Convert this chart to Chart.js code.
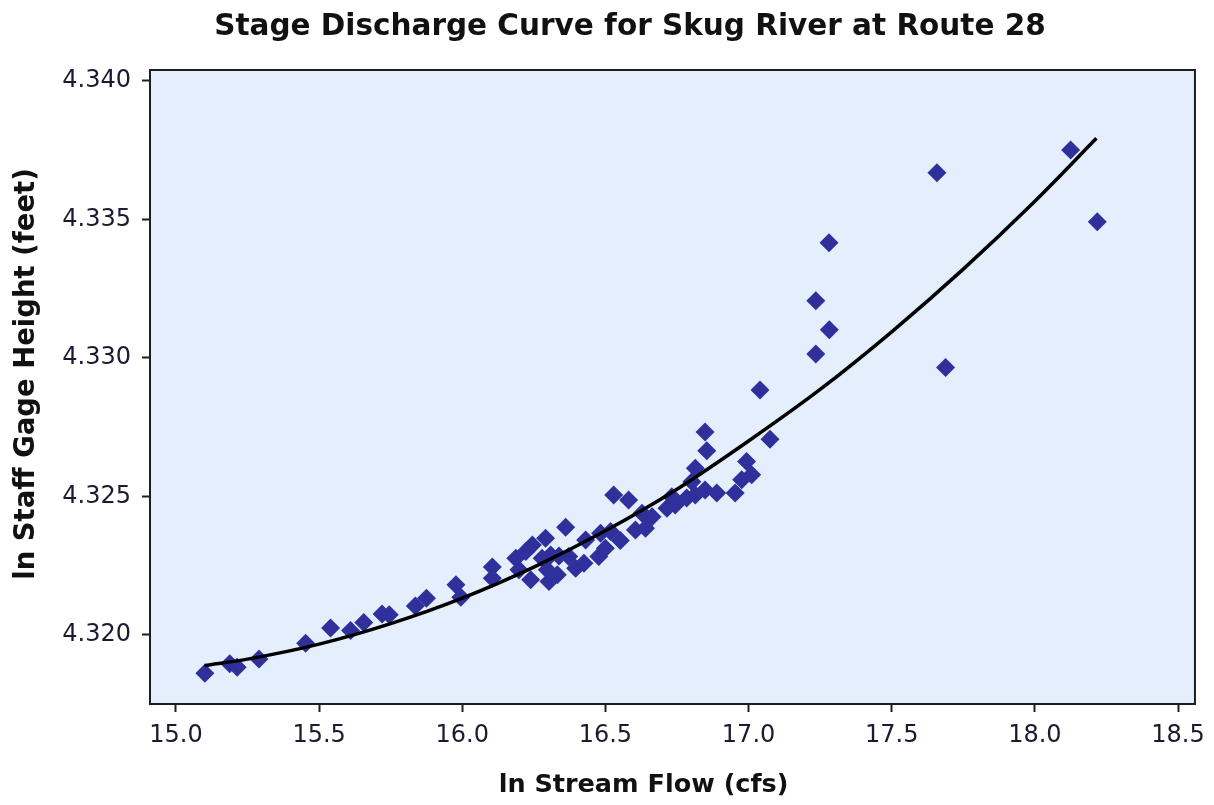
<!DOCTYPE html>
<html>
<head>
<meta charset="utf-8">
<script src="https://cdn.jsdelivr.net/npm/chart.js@4.4.1/dist/chart.umd.min.js"></script>
<style>
  html, body { margin: 0; padding: 0; background: #ffffff; }
  #wrap { width: 1214px; height: 805px; }
</style>
</head>
<body>
<div id="wrap"><canvas id="c" width="1214" height="805"></canvas></div>
<script>
// ---- data ----
const chartTitle = 'Stage Discharge Curve for Skug River at Route 28';
const xTitle = 'ln Stream Flow (cfs)';
const yTitle = 'ln Staff Gage Height (feet)';

const xTicks = [15.0, 15.5, 16.0, 16.5, 17.0, 17.5, 18.0, 18.5];
const yTicks = [4.320, 4.325, 4.330, 4.335, 4.340];

// observations (ln flow, ln gage height)
const flowX = [
  15.101, 15.188, 15.214, 15.290, 15.453, 15.540, 15.610, 15.656, 15.720, 15.745,
  15.836, 15.875, 15.978, 15.995, 16.105, 16.105, 16.198, 16.187, 16.222, 16.245,
  16.239, 16.291, 16.361, 16.279, 16.309, 16.338, 16.297, 16.332, 16.303, 16.372,
  16.396, 16.425, 16.431, 16.483, 16.518, 16.500, 16.477, 16.552, 16.529, 16.581,
  16.605, 16.628, 16.640, 16.663, 16.715, 16.744, 16.732, 16.784, 16.802, 16.814,
  16.848, 16.889, 16.953, 16.976, 17.011, 16.848, 16.854, 16.814, 17.075, 16.993,
  17.040, 17.235, 17.282, 17.235, 17.281, 17.658, 18.125, 18.218, 17.688
];
const gageY = [
  4.31862, 4.31896, 4.31884, 4.31913, 4.31970, 4.32025, 4.32016, 4.32045, 4.32076, 4.32073,
  4.32105, 4.32133, 4.32181, 4.32136, 4.32245, 4.32205, 4.32235, 4.32277, 4.32301, 4.32325,
  4.32199, 4.32349, 4.32389, 4.32277, 4.32289, 4.32285, 4.32235, 4.32217, 4.32193, 4.32283,
  4.32241, 4.32259, 4.32343, 4.32367, 4.32373, 4.32313, 4.32283, 4.32341, 4.32505, 4.32487,
  4.32379, 4.32439, 4.32385, 4.32427, 4.32457, 4.32469, 4.32499, 4.32494, 4.32553, 4.32505,
  4.32523, 4.32512, 4.32512, 4.32560, 4.32578, 4.32732, 4.32665, 4.32602, 4.32706, 4.32626,
  4.32884, 4.33206, 4.33101, 4.33014, 4.33415, 4.33668, 4.33750, 4.33491, 4.32965
];

// fitted curve
const curveX = [15.10, 15.25, 15.50, 15.75, 16.00, 16.25, 16.50, 16.75, 17.00, 17.25, 17.50, 17.75, 18.00, 18.215];
const curveY = [4.31890, 4.31913, 4.31967, 4.32041, 4.32133, 4.32245, 4.32376, 4.32526, 4.32700, 4.32886, 4.33094, 4.33320, 4.33565, 4.33792];

// ---- build ----
const scatterPts = flowX.map((x, i) => ({x: x, y: gageY[i]}));
const curvePts = curveX.map((x, i) => ({x: x, y: curveY[i]}));

const FONT = "'DejaVu Sans', Verdana, sans-serif";

const bgPlugin = {
  id: 'bgPlugin',
  beforeDraw(chart) {
    const {ctx, chartArea: a} = chart;
    ctx.save();
    ctx.fillStyle = '#ffffff';
    ctx.fillRect(0, 0, chart.width, chart.height);
    ctx.fillStyle = '#e4eefc';
    ctx.fillRect(a.left, a.top, a.right - a.left, a.bottom - a.top);
    ctx.restore();
  },
  afterDraw(chart) {
    const {ctx, chartArea: a} = chart;
    ctx.save();
    ctx.strokeStyle = '#1e1e1e';
    ctx.lineWidth = 2;
    ctx.strokeRect(a.left, a.top, a.right - a.left, a.bottom - a.top);
    // axis titles
    ctx.fillStyle = '#111111';
    ctx.textAlign = 'center';
    ctx.textBaseline = 'middle';
    ctx.font = "bold 25.5px " + FONT;
    ctx.fillText(xTitle, 643.5, 785);
    ctx.font = "bold 27.5px " + FONT;
    ctx.translate(26.5, 374);
    ctx.rotate(-Math.PI / 2);
    ctx.fillText(yTitle, 0, 0);
    ctx.restore();
  }
};

new Chart(document.getElementById('c'), {
  type: 'scatter',
  data: {
    datasets: [
      {
        type: 'line',
        label: 'Fit',
        data: curvePts,
        borderColor: '#000000',
        borderWidth: 3.5,
        pointRadius: 0,
        fill: false,
        cubicInterpolationMode: 'monotone'
      },
      {
        type: 'scatter',
        label: 'Observed',
        data: scatterPts,
        pointStyle: 'rectRot',
        pointRadius: 9.5,
        backgroundColor: '#30309c',
        borderColor: '#30309c',
        borderWidth: 0
      }
    ]
  },
  options: {
    responsive: false,
    animation: false,
    devicePixelRatio: 1,
    layout: { padding: { left: 62, right: 16, top: 0, bottom: 0 } },
    plugins: {
      legend: { display: false },
      tooltip: { enabled: false },
      title: {
        display: true,
        text: chartTitle,
        color: '#111111',
        font: { family: FONT, size: 29.5, weight: 'bold', lineHeight: 1.2 },
        padding: { top: 10, bottom: 24.6 }
      }
    },
    scales: {
      x: {
        type: 'linear',
        min: 14.9094,
        max: 18.5592,
        afterFit(scale) { scale.height = 101; },
        afterBuildTicks(scale) { scale.ticks = xTicks.map(v => ({value: v})); },
        grid: { display: true, drawOnChartArea: false, drawTicks: true, tickLength: 8, tickColor: '#1e1e1e', tickWidth: 2 },
        border: { display: false },
        ticks: {
          padding: 9,
          color: '#1a1a30',
          font: { family: FONT, size: 24 },
          callback: v => Number(v).toFixed(1)
        }
      },
      y: {
        type: 'linear',
        min: 4.317510,
        max: 4.340386,
        afterFit(scale) { scale.width = 88; },
        afterBuildTicks(scale) { scale.ticks = yTicks.map(v => ({value: v})); },
        grid: { display: true, drawOnChartArea: false, drawTicks: true, tickLength: 8, tickColor: '#1e1e1e', tickWidth: 2 },
        border: { display: false },
        ticks: {
          padding: 11,
          color: '#1a1a30',
          font: { family: FONT, size: 24 },
          callback: v => Number(v).toFixed(3)
        }
      }
    }
  },
  plugins: [bgPlugin]
});
</script>
</body>
</html>
